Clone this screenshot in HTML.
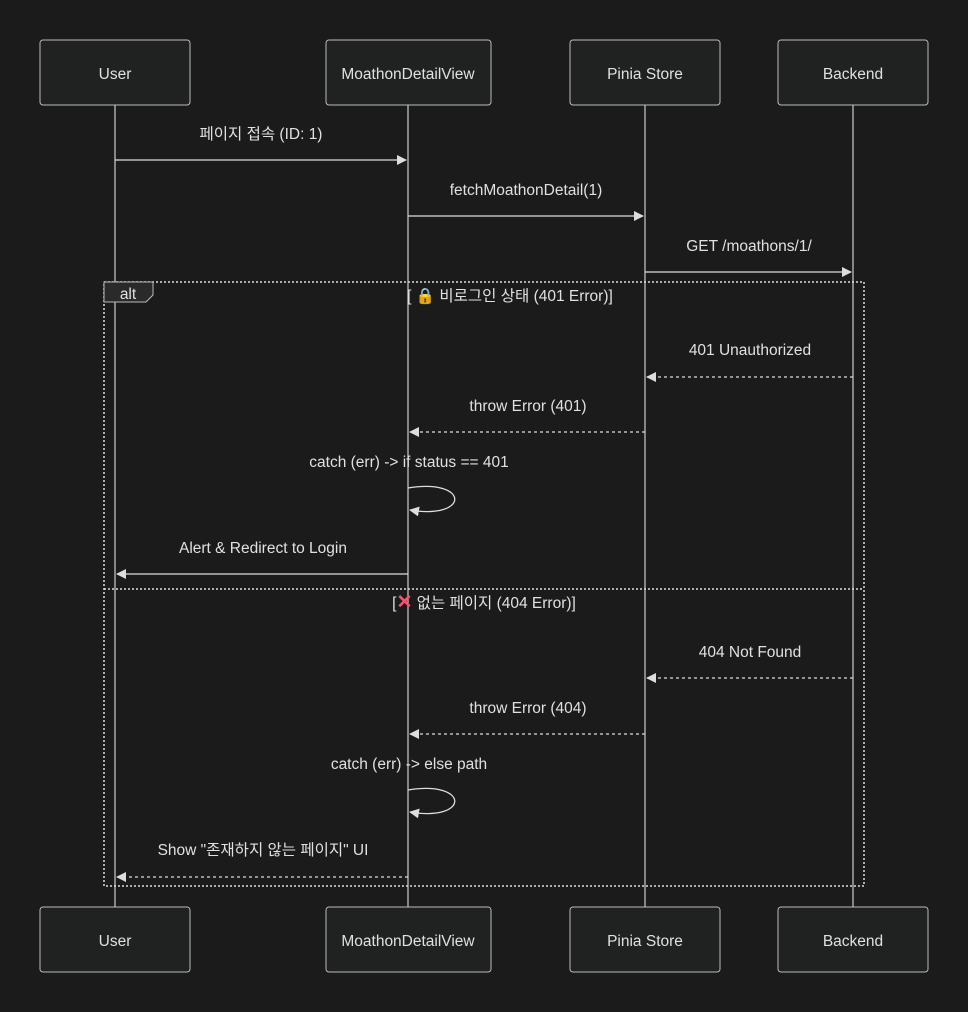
<!DOCTYPE html>
<html><head><meta charset="utf-8"><style>
html,body{margin:0;padding:0;background:#1b1b1b;overflow:hidden;}
svg{display:block;}
svg text{font-family:"Liberation Sans","Noto Sans CJK KR",sans-serif;fill:#e0e0e0;font-size:15.5px;}
</style></head><body>
<svg width="968" height="1012" viewBox="0 0 968 1012" xmlns="http://www.w3.org/2000/svg">
<defs>
<marker id="a" markerWidth="10" markerHeight="10" refX="9" refY="5" orient="auto" markerUnits="userSpaceOnUse"><path d="M0,0 L10,5 L0,10 z" fill="#ddd"/></marker>
</defs>
<rect width="968" height="1012" fill="#1b1b1b"/>
<g stroke="#ccc" stroke-width="1.2">
<line x1="115" y1="105" x2="115" y2="907"/>
<line x1="408" y1="105" x2="408" y2="907"/>
<line x1="645" y1="105" x2="645" y2="907"/>
<line x1="853" y1="105" x2="853" y2="907"/>
</g>
<g fill="#202121" stroke="#bbb" stroke-width="1">
<rect x="40" y="40" width="150" height="65" rx="3"/><rect x="326" y="40" width="165" height="65" rx="3"/>
<rect x="570" y="40" width="150" height="65" rx="3"/><rect x="778" y="40" width="150" height="65" rx="3"/>
<rect x="40" y="907" width="150" height="65" rx="3"/><rect x="326" y="907" width="165" height="65" rx="3"/>
<rect x="570" y="907" width="150" height="65" rx="3"/><rect x="778" y="907" width="150" height="65" rx="3"/>
</g>
<g text-anchor="middle">
<text x="115" y="79">User</text><text x="408" y="79">MoathonDetailView</text><text x="645" y="79">Pinia Store</text><text x="853" y="79">Backend</text>
<text x="115" y="946">User</text><text x="408" y="946">MoathonDetailView</text><text x="645" y="946">Pinia Store</text><text x="853" y="946">Backend</text>
</g>
<rect x="104" y="282" width="760" height="604" fill="none" stroke="#ddd" stroke-width="1.5" stroke-dasharray="2,2"/>
<line x1="104" y1="589" x2="864" y2="589" stroke="#ddd" stroke-width="1.5" stroke-dasharray="2,2"/>
<path d="M104,282 H153 V295 L146,302 H104 Z" fill="#2a2a2a" stroke="#bbb"/>
<text x="128" y="299" text-anchor="middle">alt</text>
<text x="510" y="301" text-anchor="middle">[ 🔒 비로그인 상태 (401 Error)]</text>
<text x="484" y="608" text-anchor="middle">[<tspan fill="#ff4f6e" font-weight="bold" font-size="19">✕</tspan> 없는 페이지 (404 Error)]</text>
<g stroke="#ddd" stroke-width="1.3" fill="none" marker-end="url(#a)">
<line x1="115" y1="160" x2="406" y2="160"/>
<line x1="408" y1="216" x2="643" y2="216"/>
<line x1="645" y1="272" x2="851" y2="272"/>
<line x1="853" y1="377" x2="647" y2="377" stroke-dasharray="3,3"/>
<line x1="645" y1="432" x2="410" y2="432" stroke-dasharray="3,3"/>
<path d="M408,488 C470,478 470,520 410,510"/>
<line x1="408" y1="574" x2="117" y2="574"/>
<line x1="853" y1="678" x2="647" y2="678" stroke-dasharray="3,3"/>
<line x1="645" y1="734" x2="410" y2="734" stroke-dasharray="3,3"/>
<path d="M408,790 C470,780 470,822 410,812"/>
<line x1="408" y1="877" x2="117" y2="877" stroke-dasharray="3,3"/>
</g>
<g text-anchor="middle">
<text x="261" y="139">페이지 접속 (ID: 1)</text>
<text x="526" y="195">fetchMoathonDetail(1)</text>
<text x="749" y="251">GET /moathons/1/</text>
<text x="750" y="355">401 Unauthorized</text>
<text x="528" y="411">throw Error (401)</text>
<text x="409" y="467">catch (err) -&gt; if status == 401</text>
<text x="263" y="553">Alert &amp; Redirect to Login</text>
<text x="750" y="657">404 Not Found</text>
<text x="528" y="713">throw Error (404)</text>
<text x="409" y="769">catch (err) -&gt; else path</text>
<text x="263" y="855">Show "존재하지 않는 페이지" UI</text>
</g>
</svg>
</body></html>
